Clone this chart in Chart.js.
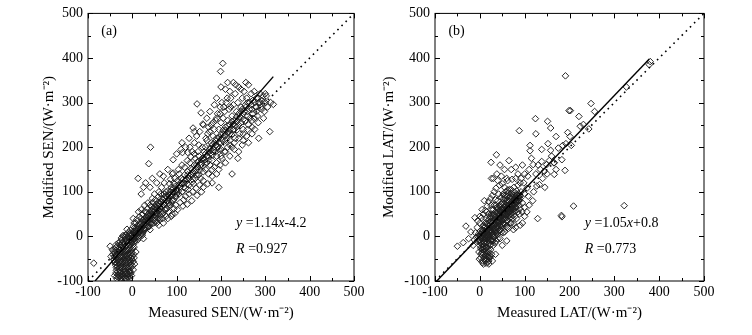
<!DOCTYPE html>
<html>
<head>
<meta charset="utf-8">
<script src="https://cdn.jsdelivr.net/npm/chart.js@4.4.1/dist/chart.umd.min.js"></script>
<style>
  html, body { margin: 0; padding: 0; background: #fff; }
  #wrap { position: relative; width: 752px; height: 335px; }
  .panel { position: absolute; top: 0; width: 376px; height: 335px; }
</style>
</head>
<body>
<div id="wrap">
  <div class="panel" style="left:0"><canvas id="senChart" width="376" height="335"></canvas></div>
  <div class="panel" style="left:376px"><canvas id="latChart" width="376" height="335"></canvas></div>
</div>
<script>
// axis range, both panels
const axisMin = -100;
const axisMax = 500;

// (a) sensible heat: [measured, modified]
const senPoints = [
  [-30,-92],[-26,-95],[-22,-90],[-18,-93],[-14,-88],[-10,-91],[-33,-85],[-28,-83],[-24,-86],[-20,-80],
  [-16,-84],[-12,-80],[-8,-85],[-5,-78],[-36,-76],[-31,-72],[-27,-77],[-23,-70],[-19,-74],[-15,-68],
  [-11,-72],[-7,-66],[-3,-70],[-38,-64],[-34,-60],[-29,-65],[-25,-58],[-21,-62],[-17,-56],[-13,-60],
  [-9,-54],[-5,-58],[-1,-52],[-42,-52],[-37,-48],[-32,-53],[-28,-46],[-24,-50],[-20,-44],[-16,-48],
  [-12,-42],[-8,-46],[-4,-40],[0,-44],[-44,-40],[-40,-36],[-35,-41],[-31,-34],[-27,-38],[-23,-32],
  [-19,-36],[-15,-30],[-11,-34],[-7,-28],[-3,-32],[1,-26],[-38,-26],[-34,-22],[-30,-27],[-26,-20],
  [-22,-24],[-18,-18],[-14,-22],[-10,-16],[-6,-20],[-2,-14],[2,-18],[-28,-12],[-24,-8],[-20,-13],
  [-16,-6],[-12,-10],[-8,-4],[-4,-8],[0,-2],[4,-6],[-20,0],[-15,4],[-10,-1],[-6,6],[-2,2],[3,8],[7,4],
  [-45,-30],[-48,-45],[-40,-58],[-6,-95],[-2,-88],[2,-75],[5,-62],[-40,-88],[-35,-95],[-25,-100],
  [4,-48],[8,-35],[-50,-22],[-12,-98],
  [-35,-90],[-30,-88],[-25,-92],[-20,-87],[-15,-94],[-10,-86],[-6,-90],[-37,-82],[-32,-79],[-27,-81],
  [-22,-84],[-17,-78],[-12,-83],[-7,-79],[-3,-82],[-36,-70],[-33,-67],[-28,-71],[-24,-66],[-19,-69],
  [-14,-64],[-9,-69],[-4,-63],[0,-66],[-39,-57],[-35,-54],[-30,-59],[-26,-55],[-22,-57],[-18,-52],
  [-14,-55],[-10,-50],[-6,-53],[-2,-48],[2,-56],[-41,-45],[-36,-44],[-32,-47],[-27,-42],[-23,-45],
  [-19,-40],[-15,-43],[-11,-38],[-6,-41],[-2,-37],[3,-40],[-42,-33],[-37,-31],[-33,-35],[-29,-30],
  [-25,-34],[-21,-29],[-17,-32],[-13,-27],[-9,-31],[-5,-25],[-1,-29],[4,-24],[-36,-18],[-31,-15],
  [-27,-19],[-23,-14],[-19,-17],[-15,-12],[-11,-15],[-7,-10],[-3,-12],[1,-8],[5,-12],[-25,-4],
  [-21,2],[-17,-2],[-13,3],[-9,0],[-5,4],[-1,-3],[3,2],[7,-2],[10,6],
  [0,5],[4,12],[8,3],[10,15],[12,8],[6,20],[14,22],[16,12],[18,28],[20,18],[22,32],[24,24],[26,38],
  [28,28],[30,42],[32,34],[34,48],[36,38],[38,52],[40,44],[42,58],[44,48],[46,62],[48,54],[50,66],
  [52,58],[54,72],[56,62],[58,76],[60,68],[2,22],[8,30],[12,-8],[18,5],[24,10],[30,18],[36,22],
  [42,30],[48,36],[54,44],[60,50],[-4,14],[4,30],[10,38],[16,44],[22,50],[28,56],[34,62],[40,70],
  [46,76],[52,82],[58,88],[64,56],[64,78],[20,40],[26,16],[32,54],[38,30],[44,66],[50,42],[15,-2],
  [22,2],[6,-10],[-8,10],[-12,16],[2,40],[14,55],[20,60],[28,70],[35,75],[45,85],[55,30],[62,40],
  [68,50],[25,-5],[40,15],[60,25],[70,30],[80,40],[90,50],
  [2,10],[5,6],[7,16],[9,10],[11,24],[13,16],[15,8],[17,26],[19,14],[21,22],[23,36],[25,26],[27,18],
  [29,36],[31,26],[33,42],[35,32],[37,46],[39,38],[41,50],[43,40],[45,56],[47,46],[49,60],[51,50],
  [53,66],[55,54],[57,68],[59,58],[61,72],[63,62],[65,76],[67,66],[69,82],[71,70],[73,86],[75,76],
  [77,90],[79,80],[81,94],[83,86],[85,100],[87,90],[89,104],[91,94],[93,108],[95,100],[97,112],[99,104],
  [3,-2],[8,-4],[13,0],[18,10],[23,6],[28,14],[33,20],[38,22],[43,28],[48,30],[53,36],[58,40],
  [63,46],[68,56],[73,60],[78,62],[83,70],[88,76],[93,82],[98,90],
  [65,85],[70,72],[72,95],[75,60],[78,88],[80,102],[82,75],[85,92],[88,110],[90,80],[92,98],[95,118],
  [98,88],[100,105],[102,125],[105,95],[108,112],[110,130],[112,100],[115,120],[118,138],[120,108],
  [122,128],[125,145],[128,115],[130,135],[132,152],[135,122],[138,142],[140,160],[142,130],[145,150],
  [148,168],[150,138],[60,100],[66,110],[72,120],[76,45],[82,55],[86,128],[90,140],[94,62],[98,70],
  [104,150],[108,76],[112,160],[116,82],[120,90],[124,170],[128,95],[132,178],[136,100],[140,185],
  [144,108],[148,190],[152,115],[70,135],[80,150],[92,172],[100,185],[110,195],[55,120],[62,140],
  [40,110],[50,95],[45,130],[88,45],[96,52],[114,68],[124,72],[134,80],[146,92],[156,100],[160,110],
  [138,118],[126,105],[106,140],[96,130],[86,70],[76,100],[118,155],[130,165],[142,175],[154,130],
  [102,60],[84,118],[64,95],[58,58],[68,40],
  [105,115],[115,128],[125,138],[135,150],[145,160],[155,172],[165,185],[175,198],[185,210],[195,222],
  [205,238],[215,248],[225,258],[235,268],[245,280],[160,175],[170,190],[180,205],[190,215],[200,228],
  [210,238],[220,230],[230,240],[240,250],[250,262],[260,270],
  [100,95],[104,102],[108,120],[112,118],[116,110],[120,125],[124,118],[128,130],[132,140],[136,128],
  [140,145],[144,138],[148,155],[152,148],[156,162],[160,158],[164,172],[168,180],[172,170],[176,186],
  [180,182],[184,195],[188,190],[192,200],[196,210],[200,195],[204,215],[208,225],[212,218],[216,232],
  [220,240],[224,228],[228,252],[232,248],[236,258],[240,275],[244,268],[248,285],[252,280],[256,290],
  [260,300],[264,285],[268,295],[272,275],[276,300],[280,290],[284,310],[288,300],[292,285],[296,300],
  [150,180],[158,200],[166,220],[174,235],[182,255],[190,265],[198,275],[206,290],[214,310],[222,290],
  [180,150],[190,165],[200,180],[210,190],[220,205],[230,210],[240,220],[250,230],[260,240],[270,260],
  [280,280],
  [41,200],[37,163],[13,130],[-87,-60],[30,120],[20,95],[25,110],[113,188],[92,142],[120,200],
  [128,220],[140,235],[112,210],
  [155,160],[158,175],[160,145],[162,190],[165,150],[165,200],[168,165],[168,215],[170,180],[170,230],
  [172,140],[172,245],[175,195],[175,160],[178,210],[178,250],[180,170],[182,225],[182,190],[185,240],
  [185,155],[188,205],[188,260],[190,180],[190,220],[192,275],[195,195],[195,240],[198,160],[198,290],
  [200,210],[200,255],[202,175],[202,300],[205,230],[205,265],[208,190],[208,280],[210,245],[210,215],
  [212,300],[215,200],[215,260],[218,235],[218,285],[220,250],[220,215],[222,310],[225,270],[225,140],
  [228,240],[228,295],[230,260],[232,220],[232,320],[235,280],[235,245],[238,300],[238,175],[240,265],
  [240,335],[242,230],[245,290],[245,255],[248,310],[248,205],[250,275],[250,240],[252,325],[255,260],
  [255,295],[258,225],[258,310],[260,280],[262,250],[262,340],[265,300],[265,265],[268,320],[270,285],
  [270,245],[272,305],[275,265],[275,325],[278,290],[280,310],[282,270],[285,220],[285,300],[288,320],
  [290,290],[292,305],[295,315],[298,280],[300,300],[302,315],[305,290],[310,235],[312,300],[318,296],
  [300,320],[296,265],[284,255],[276,240],
  [204,388],[199,370],[233,340],[200,335],[210,330],[220,325],[228,345],[245,330],[256,345],[215,345],
  [190,310],[185,295],[175,280],[168,265],[160,250],[152,235],[146,297],[159,252],[137,243],[155,277],
  [145,225],[150,205],[140,210],[130,200],[135,190],[125,188],[160,125],[170,118],[180,135],[190,140],
  [195,150],[210,165],[220,180],[240,190],[225,200],[230,195],[250,215],[262,210],[270,230],[195,110],
  [180,120]
];

// (b) latent heat: [measured, modified]
const latPoints = [
  [-5,-10],[0,-20],[2,5],[4,-30],[5,15],[6,-5],[8,-40],[8,25],[10,0],[10,-15],[12,30],[12,10],[14,-25],
  [14,40],[15,-5],[16,18],[18,-45],[18,35],[20,5],[20,50],[21,-15],[22,25],[24,-30],[24,45],[25,10],
  [26,60],[27,-5],[28,30],[30,-20],[30,50],[31,15],[32,70],[33,0],[34,38],[35,55],[36,20],[37,-10],
  [38,65],[39,35],[40,80],[40,10],[42,50],[43,25],[44,70],[45,-5],[46,40],[47,88],[48,60],[49,20],
  [50,75],[51,45],[52,95],[53,30],[54,65],[55,10],[56,85],[57,50],[58,100],[59,35],[60,70],[61,20],
  [62,90],[63,55],[64,80],[65,40],[66,105],[67,65],[68,30],[69,85],[70,50],[71,95],[72,70],[73,40],
  [74,88],[75,60],[76,100],[77,75],[78,45],[80,85],[81,65],[82,95],[84,78],[85,55],[86,90],[88,70],
  [90,85],[92,100],[95,75],
  [3,-12],[7,8],[9,-22],[11,20],[13,-2],[15,28],[17,6],[19,-8],[21,38],[23,15],[25,-18],[27,42],
  [29,22],[31,-2],[33,48],[35,28],[37,8],[39,52],[41,32],[43,12],[45,58],[47,38],[49,62],[51,28],
  [53,72],[55,45],[57,78],[59,55],[61,82],[63,48],[65,68],[67,88],[69,58],[71,78],[73,62],[75,82],
  [77,55],[79,72],[83,82],[87,80],[89,62],[1,12],[-3,5],[-8,-2],[-2,-35],[2,-48],[6,-55],[10,-50],
  [14,-60],[18,-58],[22,-48],[16,-38],[12,-42],[26,-40],[4,-18],[0,0],[-10,8],[-6,20],[-12,-8],
  [0,30],[4,42],[8,50],[12,58],[16,68],[20,78],[24,85],[28,92],[32,100],[36,108],[44,115],[50,118],
  [28,5],[34,-15],[40,-5],[46,15],[52,8],[58,22],[64,18],[70,30],[76,28],[82,40],[88,50],[94,55],
  [100,65],[100,95],[105,108],[98,120],[108,90],[35,82],[25,70],[15,55],[42,95],[55,110],[62,125],
  [72,128],[85,115],[92,130],[80,130],[60,130],[48,135],[38,140],[30,130],
  [0,-8],[3,-4],[5,2],[2,-26],[6,-18],[9,-12],[11,-6],[13,4],[15,12],[4,8],[7,14],[10,22],
  [17,-2],[19,10],[21,18],[23,28],[25,34],[13,-16],[16,-24],[19,-30],[22,-20],[24,-8],[26,2],
  [28,16],[30,26],[32,36],[34,44],[36,52],[29,-10],[32,-2],[34,10],[36,14],[38,24],[40,32],[42,40],
  [44,48],[46,54],[38,4],[41,18],[44,32],[47,44],[50,52],[52,60],[54,68],[48,10],[50,24],[52,38],
  [55,50],[57,58],[59,64],[61,74],[56,28],[58,42],[60,48],[62,62],[64,70],[66,78],[68,90],[62,34],
  [65,46],[67,56],[69,66],[71,72],[73,80],[75,92],[70,44],[72,54],[74,64],[76,70],[78,82],[80,90],
  [82,102],[78,58],[80,66],[82,74],[84,86],[86,96],[88,80],[90,92],[-2,-8],[-4,0],[1,-14],[3,-40],
  [7,-30],[11,-34],[15,-44],[9,-46],[20,-36],[5,-36],[17,-14],[27,10],[45,66],[43,58],[48,72],
  [52,84],[58,92],[64,98],[70,105],[76,110],[62,104],[54,92],[40,62],[36,70],[30,60],[26,50],
  [22,42],[18,26],
  [5,-2],[8,4],[12,-4],[14,8],[16,2],[18,16],[20,-4],[22,10],[24,20],[26,-10],[28,24],[30,6],
  [32,18],[34,28],[36,2],[38,34],[40,18],[42,28],[44,40],[46,24],[48,46],[50,36],[52,50],[54,40],
  [56,58],[58,48],[60,62],[62,52],[64,64],[66,56],[68,72],[70,62],[72,78],[74,70],[76,84],[78,74],
  [80,78],[83,92],[85,80],[87,86],[8,-62],[12,-55],[16,-50],[20,-55],[24,-45],[14,-32],[10,-28],
  [6,-25],
  [191,360],[199,282],[202,282],[248,298],[256,280],[221,269],[327,335],[380,392],[378,385],[151,258],
  [158,243],[170,224],[196,233],[201,224],[224,247],[231,251],[243,241],[138,195],[152,208],[158,193],
  [175,198],[185,204],[192,208],[204,204],[138,168],[166,165],[183,172],[190,148],[166,139],[322,69],
  [209,68],[182,47],[183,44],[129,40],[88,237],[124,264],[125,230],[37,183],[25,166],[26,130],
  [112,204],[112,192],[119,161],[107,135],[133,116],[149,161],[144,146],[127,113],[-31,23],[-50,-22],
  [-37,-14],[-11,42],[-1,-51],[6,-59],[21,-44],
  [110,150],[115,175],[120,100],[125,140],[130,160],[135,150],[140,130],[145,110],[150,140],[155,170],
  [160,180],[165,165],[170,150],[100,140],[95,160],[90,120],[85,140],[80,155],[70,150],[65,170],
  [55,150],[45,160],[40,125],[118,80],[110,70],[100,45],[95,30],[90,25],[80,20],[75,15],[105,55],
  [60,-10],[50,-20],[-20,10],[-15,-20],[-25,-5],[10,80],[5,60],[0,45],[-5,35],[35,-40],[28,-55],
  [20,-62]
];

// fitted regression lines (end points) and 1:1 reference
const senFit = [[-84, -100], [318, 358.3]];
const latFit = [[-100, -104.2], [378, 397.7]];
const oneToOne = [[-100, -100], [500, 500]];

// texts
const senTitles = ['Measured SEN/(W·m⁻²)', 'Modified SEN/(W·m⁻²)'];
const latTitles = ['Measured LAT/(W·m⁻²)', 'Modified LAT/(W·m⁻²)'];
const senNotes = ['(a)', ['y', ' =1.14', 'x', '-4.2'], ['R', ' =0.927']];
const latNotes = ['(b)', ['y', ' =1.05', 'x', '+0.8'], ['R', ' =0.773']];

const serif = "'Liberation Serif', 'Times New Roman', serif";
const toXY = arr => arr.map(p => ({ x: p[0], y: p[1] }));

// box, inward ticks and the panel notes
const framePlugin = {
  id: 'frame',
  afterDraw(chart) {
    const { ctx, chartArea: a, scales: { x, y } } = chart;
    ctx.save();
    ctx.strokeStyle = '#000';
    ctx.lineWidth = 1;
    ctx.strokeRect(a.left, a.top, a.right - a.left, a.bottom - a.top);
    ctx.beginPath();
    for (let v = axisMin; v <= axisMax; v += 50) {
      const len = v % 100 === 0 ? 5 : 3;
      const px = Math.round(x.getPixelForValue(v)) + 0.5;
      const py = Math.round(y.getPixelForValue(v)) + 0.5;
      ctx.moveTo(px, a.bottom); ctx.lineTo(px, a.bottom - len);
      ctx.moveTo(px, a.top); ctx.lineTo(px, a.top + len);
      ctx.moveTo(a.left, py); ctx.lineTo(a.left + len, py);
      ctx.moveTo(a.right, py); ctx.lineTo(a.right - len, py);
    }
    ctx.stroke();

    const notes = chart.options.plugins.frame.notes;
    ctx.fillStyle = '#000';
    ctx.textBaseline = 'middle';
    ctx.font = '14px ' + serif;
    ctx.fillText(notes[0], x.getPixelForValue(-70), y.getPixelForValue(459));
    // equation and R, odd parts italic
    [[notes[1], 29], [notes[2], -29]].forEach(([parts, yv]) => {
      let px = x.getPixelForValue(234);
      const py = y.getPixelForValue(yv);
      parts.forEach((t, i) => {
        ctx.font = (i % 2 === 0 ? 'italic ' : '') + '14px ' + serif;
        ctx.fillText(t, px, py);
        px += ctx.measureText(t).width;
      });
    });
    ctx.restore();
  }
};

function makeChart(id, points, fit, titles, notes, yWidth, padRight, yTitlePad) {
  return new Chart(document.getElementById(id), {
    type: 'scatter',
    data: {
      datasets: [
        {
          data: toXY(points),
          pointStyle: 'rectRot',
          pointRadius: 3.3,
          pointHoverRadius: 3.3,
          borderColor: '#1e1e1e',
          backgroundColor: 'rgba(0,0,0,0)',
          borderWidth: 0.95,
          order: 3
        },
        {
          data: toXY(oneToOne),
          showLine: true,
          borderColor: '#000',
          borderWidth: 1.6,
          borderDash: [1.6, 4.2],
          pointRadius: 0,
          order: 2
        },
        {
          data: toXY(fit),
          showLine: true,
          borderColor: '#000',
          borderWidth: 1.4,
          pointRadius: 0,
          order: 1
        }
      ]
    },
    options: {
      responsive: false,
      animation: false,
      events: [],
      layout: { padding: { left: 0, right: padRight, top: 12, bottom: 0 } },
      plugins: {
        legend: { display: false },
        tooltip: { enabled: false },
        frame: { notes: notes }
      },
      scales: {
        x: {
          type: 'linear',
          min: axisMin,
          max: axisMax,
          ticks: { stepSize: 100, padding: 3, color: '#000', font: { family: serif, size: 14 }, maxRotation: 0 },
          grid: { display: false, drawTicks: false },
          border: { display: false },
          title: { display: true, text: titles[0], color: '#000', font: { family: serif, size: 15 }, padding: { top: 0, bottom: 13 } },
          afterFit(s) { s.height = 54; }
        },
        y: {
          type: 'linear',
          min: axisMin,
          max: axisMax,
          ticks: { stepSize: 100, padding: 5, color: '#000', font: { family: serif, size: 14 } },
          grid: { display: false, drawTicks: false },
          border: { display: false },
          title: { display: true, text: titles[1], color: '#000', font: { family: serif, size: 15 }, padding: { top: yTitlePad, bottom: 0 } },
          afterFit(s) { s.width = yWidth; }
        }
      }
    },
    plugins: [framePlugin]
  });
}

makeChart('senChart', senPoints, senFit, senTitles, senNotes, 88, 22, 40);
makeChart('latChart', latPoints, latFit, latTitles, latNotes, 59, 48, 4);
</script>
</body>
</html>
